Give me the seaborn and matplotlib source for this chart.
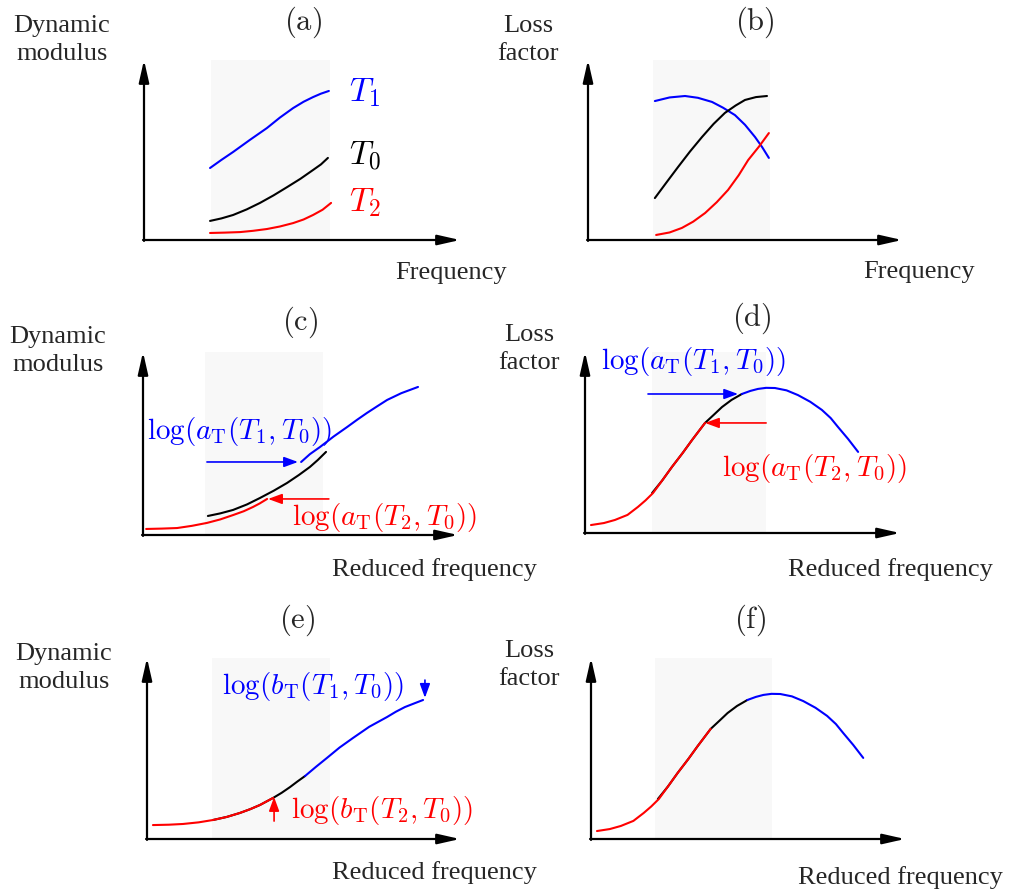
import numpy as np
import matplotlib
matplotlib.use("Agg")
import matplotlib.pyplot as plt
import seaborn as sns

sns.set_style("white")
plt.rcParams['font.family'] = ['Liberation Serif', 'DejaVu Serif']
plt.rcParams['mathtext.fontset'] = 'cm'

BLUE = '#0000ff'
RED = '#ff0000'
BLACK = '#000000'
SHADE = '#f8f8f8'

# (a) dynamic modulus vs frequency, three temperatures
a_x_t1 = [2.09, 2.45, 2.82, 3.35, 3.89, 4.3, 4.72, 5.05, 5.35, 5.6, 5.85]
a_y_t1 = [4.0, 4.45, 4.89, 5.56, 6.22, 6.8, 7.33, 7.68, 7.94, 8.13, 8.28]
a_x_t0 = [2.09, 2.45, 2.82, 3.25, 3.67, 4.1, 4.53, 4.95, 5.35, 5.6, 5.82]
a_y_t0 = [1.06, 1.2, 1.39, 1.7, 2.06, 2.48, 2.94, 3.4, 3.89, 4.2, 4.56]
a_x_t2 = [2.09, 2.55, 3.04, 3.45, 3.89, 4.3, 4.72, 5.05, 5.35, 5.65, 5.92]
a_y_t2 = [0.39, 0.41, 0.44, 0.51, 0.61, 0.75, 0.94, 1.14, 1.39, 1.68, 2.06]
a_labels = ['$T_1$', '$T_0$', '$T_2$']

# (b) loss factor vs frequency
b_x_t1 = [2.13, 2.6, 3.09, 3.5, 3.95, 4.3, 4.68, 5.0, 5.32, 5.55, 5.76]
b_y_t1 = [7.72, 7.92, 8.0, 7.9, 7.67, 7.35, 6.94, 6.4, 5.72, 5.15, 4.56]
b_x_t0 = [2.13, 2.5, 2.87, 3.25, 3.63, 4.0, 4.36, 4.7, 5.0, 5.35, 5.7]
b_y_t0 = [2.33, 3.2, 4.06, 4.92, 5.72, 6.45, 7.06, 7.47, 7.78, 7.94, 8.0]
b_x_t2 = [2.17, 2.6, 2.99, 3.35, 3.73, 4.1, 4.46, 4.8, 5.1, 5.45, 5.76]
b_y_t2 = [0.28, 0.42, 0.67, 1.02, 1.5, 2.1, 2.78, 3.6, 4.44, 5.2, 5.94]

# (c) dynamic modulus vs reduced frequency, horizontal shift
c_x_t2 = [0.1, 0.6, 1.08, 1.55, 2.03, 2.45, 2.86, 3.2, 3.49, 3.7, 3.94]
c_y_t2 = [0.33, 0.35, 0.38, 0.5, 0.66, 0.85, 1.09, 1.3, 1.53, 1.72, 1.97]
c_x_t0 = [2.06, 2.45, 2.86, 3.3, 3.71, 4.15, 4.57, 4.95, 5.3, 5.55, 5.81]
c_y_t0 = [1.04, 1.18, 1.37, 1.67, 2.02, 2.42, 2.84, 3.28, 3.72, 4.1, 4.54]
c_x_t1 = [5.02, 5.3, 5.62, 6.05, 6.48, 6.8, 7.11, 7.45, 7.75, 8.2, 8.73]
c_y_t1 = [3.99, 4.42, 4.81, 5.38, 5.9, 6.3, 6.67, 7.05, 7.38, 7.75, 8.09]
shift_a_label = [r'$\log(a_{\mathrm{T}}(T_1,T_0))$', r'$\log(a_{\mathrm{T}}(T_2,T_0))$']

# (d) loss factor vs reduced frequency, horizontal shift (also used in (f))
d_x_t2 = [0.19, 0.6, 0.95, 1.35, 1.68, 1.92, 2.16, 2.45, 2.76, 3.1, 3.4, 3.81]
d_y_t2 = [0.44, 0.55, 0.72, 1.0, 1.44, 1.8, 2.21, 2.9, 3.65, 4.42, 5.14, 6.08]
d_x_t0 = [2.13, 2.45, 2.76, 3.1, 3.4, 3.81, 4.1, 4.35, 4.65, 4.98]
d_y_t0 = [2.21, 2.9, 3.65, 4.42, 5.14, 6.08, 6.55, 6.96, 7.35, 7.68]
d_x_t1 = [4.98, 5.25, 5.49, 5.75, 6.03, 6.4, 6.76, 7.15, 7.52, 7.8, 8.03, 8.35, 8.67]
d_y_t1 = [7.68, 7.85, 7.96, 8.02, 8.01, 7.88, 7.62, 7.25, 6.8, 6.35, 5.86, 5.2, 4.48]

# (e) dynamic modulus vs reduced frequency, horizontal + vertical shift
e_x_t2 = [0.19, 0.7, 1.15, 1.65, 2.11, 2.55, 2.97, 3.3, 3.61, 4.03]
e_y_t2 = [0.77, 0.79, 0.83, 0.92, 1.05, 1.22, 1.44, 1.65, 1.88, 2.27]
e_x_t0 = [2.11, 2.55, 2.97, 3.3, 3.61, 4.03, 4.3, 4.57, 4.8, 5.05]
e_y_t0 = [1.05, 1.22, 1.44, 1.65, 1.88, 2.27, 2.55, 2.87, 3.17, 3.48]
e_x_t1 = [5.05, 5.4, 5.75, 6.15, 6.58, 7.1, 7.67, 7.95, 8.24, 8.55, 8.82]
e_y_t1 = [3.48, 3.99, 4.48, 5.05, 5.58, 6.2, 6.74, 7.03, 7.29, 7.5, 7.68]
shift_b_label = [r'$\log(b_{\mathrm{T}}(T_1,T_0))$', r'$\log(b_{\mathrm{T}}(T_2,T_0))$']

panel_tags = ['(a)', '(b)', '(c)', '(d)', '(e)', '(f)']

W, H = 1010, 893
fig = plt.figure(figsize=(W / 100, H / 100), dpi=100)


def make_axes(x0, top, w, h, span):
    ax = fig.add_axes([x0 / W, 1 - (top + h) / H, w / W, h / H])
    ax.set_xlim(0, 10)
    ax.set_ylim(0, 10)
    ax.set_axis_off()
    ax.axvspan(span[0], span[1], color=SHADE, zorder=0, lw=0)
    arrow = dict(arrowstyle='-|>,head_length=0.75,head_width=0.17', lw=1.6, color='black',
                 mutation_scale=18, shrinkA=0, shrinkB=0)
    ax.annotate('', xy=(1, 0), xytext=(-0.003, 0), xycoords='axes fraction', arrowprops=arrow)
    ax.annotate('', xy=(0, 1), xytext=(0, -0.005), xycoords='axes fraction', arrowprops=arrow)
    return ax


def curve(ax, x, y, c):
    sns.lineplot(x=x, y=y, ax=ax, color=c, lw=1.5, estimator=None, sort=False, zorder=3)


def shift_arrow(ax, start, end, c):
    ax.annotate('', xy=end, xytext=start, xycoords='data',
                arrowprops=dict(arrowstyle='-|>,head_length=0.6,head_width=0.22', lw=1.2,
                                color=c, mutation_scale=14, shrinkA=0, shrinkB=0))


def ftext(x, y, s, size=19, **kw):
    fig.text(x / W, 1 - y / H, s, fontsize=size, ha='center', va='center', **kw)


# panel (a)
ax = make_axes(144, 60, 316, 180, (2.12, 5.89))
curve(ax, a_x_t1, a_y_t1, BLUE)
curve(ax, a_x_t0, a_y_t0, BLACK)
curve(ax, a_x_t2, a_y_t2, RED)
for lab, yy, c in zip(a_labels, [8.2, 4.7, 2.05], [BLUE, BLACK, RED]):
    ax.text(6.5, yy, lab, color=c, fontsize=24, va='center', ha='left')

# panel (b)
ax = make_axes(588, 60, 314, 180, (2.07, 5.8))
curve(ax, b_x_t1, b_y_t1, BLUE)
curve(ax, b_x_t0, b_y_t0, BLACK)
curve(ax, b_x_t2, b_y_t2, RED)

# panel (c)
ax = make_axes(143, 352, 315, 183, (1.97, 5.71))
curve(ax, c_x_t0, c_y_t0, BLACK)
curve(ax, c_x_t2, c_y_t2, RED)
curve(ax, c_x_t1, c_y_t1, BLUE)
shift_arrow(ax, (2.03, 3.99), (4.92, 3.99), BLUE)
shift_arrow(ax, (5.9, 1.97), (3.97, 1.97), RED)
ax.text(0.12, 5.65, shift_a_label[0], color=BLUE, fontsize=21, va='center', ha='left')
ax.text(4.72, 0.98, shift_a_label[1], color=RED, fontsize=21, va='center', ha='left')

# panel (d)
ax = make_axes(585, 352, 315, 181, (2.13, 5.75))
curve(ax, d_x_t0, d_y_t0, BLACK)
curve(ax, d_x_t2, d_y_t2, RED)
curve(ax, d_x_t1, d_y_t1, BLUE)
shift_arrow(ax, (2.0, 7.68), (4.86, 7.68), BLUE)
shift_arrow(ax, (5.75, 6.08), (3.81, 6.08), RED)
ax.text(0.5, 9.45, shift_a_label[0], color=BLUE, fontsize=21, va='center', ha='left')
ax.text(4.34, 3.59, shift_a_label[1], color=RED, fontsize=21, va='center', ha='left')

# panel (e)
ax = make_axes(147, 658, 313, 181, (2.08, 5.85))
curve(ax, e_x_t0, e_y_t0, BLACK)
curve(ax, e_x_t2, e_y_t2, RED)
curve(ax, e_x_t1, e_y_t1, BLUE)
shift_arrow(ax, (8.88, 8.78), (8.88, 7.8), BLUE)
shift_arrow(ax, (4.06, 0.99), (4.06, 2.32), RED)
ax.text(2.4, 8.4, shift_b_label[0], color=BLUE, fontsize=21, va='center', ha='left')
ax.text(4.6, 1.6, shift_b_label[1], color=RED, fontsize=21, va='center', ha='left')

# panel (f): the master curve
ax = make_axes(591, 658, 314, 181, (2.04, 5.77))
curve(ax, d_x_t0, d_y_t0, BLACK)
curve(ax, d_x_t2, d_y_t2, RED)
curve(ax, d_x_t1, d_y_t1, BLUE)

# panel tags and axis words
for tag, (x, y) in zip(panel_tags, [(303, 22), (755, 22), (300, 322), (752, 318), (297, 620), (750, 620)]):
    ftext(x, y, r'$\mathrm{' + tag + '}$', size=22)

for (x, y) in [(62, 40), (58, 351), (64, 668)]:
    ftext(x, y, 'Dynamic\nmodulus', linespacing=1.35)
for (x, y) in [(528, 40), (529, 349), (529, 665)]:
    ftext(x, y, 'Loss\nfactor', linespacing=1.35)

ftext(451, 273, 'Frequency')
ftext(919, 272, 'Frequency')
ftext(434, 570, 'Reduced frequency')
ftext(890, 570, 'Reduced frequency')
ftext(434, 873, 'Reduced frequency')
ftext(900, 878, 'Reduced frequency')

fig.savefig('out.png', dpi=100, facecolor='white')
